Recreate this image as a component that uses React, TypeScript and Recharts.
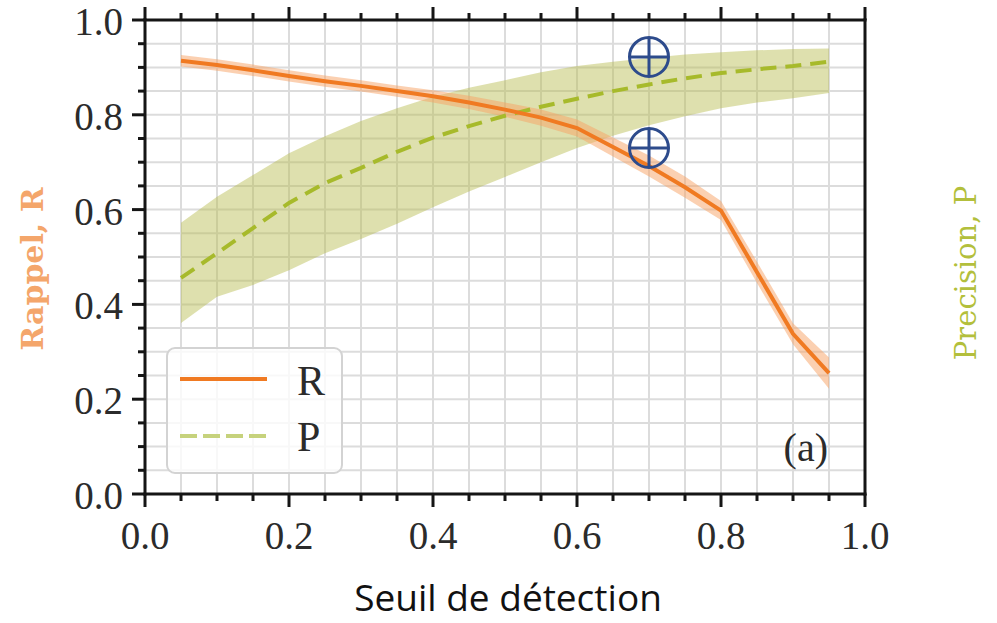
import React from 'react';
import { ComposedChart, XAxis, YAxis, CartesianGrid, Line, Area, Scatter } from 'recharts';

const thresholds = [0.05, 0.1, 0.15, 0.2, 0.25, 0.3, 0.35, 0.4, 0.45, 0.5, 0.55, 0.6, 0.65, 0.7, 0.75, 0.8, 0.85, 0.9, 0.95];
const recall = [0.914, 0.905, 0.894, 0.882, 0.871, 0.861, 0.85, 0.839, 0.826, 0.811, 0.794, 0.772, 0.732, 0.692, 0.647, 0.598, 0.468, 0.338, 0.255];
const recallLo = [0.902, 0.893, 0.882, 0.87, 0.859, 0.849, 0.838, 0.826, 0.812, 0.796, 0.777, 0.754, 0.712, 0.67, 0.625, 0.578, 0.445, 0.316, 0.222];
const recallHi = [0.926, 0.917, 0.906, 0.894, 0.883, 0.873, 0.862, 0.852, 0.84, 0.826, 0.811, 0.79, 0.752, 0.714, 0.67, 0.618, 0.49, 0.36, 0.288];
const precision = [0.456, 0.508, 0.561, 0.614, 0.656, 0.688, 0.722, 0.752, 0.776, 0.798, 0.817, 0.834, 0.85, 0.864, 0.877, 0.888, 0.896, 0.903, 0.912];
const precisionLo = [0.361, 0.416, 0.441, 0.472, 0.508, 0.538, 0.57, 0.605, 0.638, 0.669, 0.7, 0.73, 0.756, 0.778, 0.797, 0.814, 0.826, 0.835, 0.846];
const precisionHi = [0.572, 0.627, 0.673, 0.719, 0.755, 0.787, 0.814, 0.838, 0.857, 0.873, 0.89, 0.903, 0.912, 0.92, 0.927, 0.932, 0.936, 0.939, 0.94];

const gridTicks = [0, 0.05, 0.1, 0.15, 0.2, 0.25, 0.3, 0.35, 0.4, 0.45, 0.5, 0.55, 0.6, 0.65, 0.7, 0.75, 0.8, 0.85, 0.9, 0.95, 1];
const majorTicks = [0, 0.2, 0.4, 0.6, 0.8, 1];

const markerX = [0.7, 0.7];
const markerY = [0.922, 0.73];

const legendLabels = ['R', 'P'];
const xTitle = 'Seuil de détection';
const leftTitle = 'Rappel, R';
const rightTitle = 'Precision, P';
const panelTag = '(a)';

const data = thresholds.map((t, i) => ({
  t,
  R: recall[i],
  rBand: [recallLo[i], recallHi[i]],
  P: precision[i],
  pBand: [precisionLo[i], precisionHi[i]],
}));

const markers = markerX.map((t, i) => ({ t, y: markerY[i] }));

const SERIF = '"Liberation Serif", "DejaVu Serif", serif';
const INK = '#151515';
const LABEL_INK = '#2b2b2b';
const ORANGE = '#f07a22';
const GREEN = '#a7ba2b';

const isMajor = (v: number) => majorTicks.some((m) => Math.abs(m - v) < 1e-6);
const fmt = (v: number) => v.toFixed(1);

const MAJOR_LEN = 13;
const MINOR_LEN = 7;

function LeftTick(props: any) {
  const { x, y, payload } = props;
  const major = isMajor(payload.value);
  const len = major ? MAJOR_LEN : MINOR_LEN;
  return (
    <g>
      <line x1={x - len} x2={x} y1={y} y2={y} stroke={INK} strokeWidth={3} />
      {major && (
        <text x={x - 22} y={y + 15} textAnchor="end" fontSize={39} fontFamily={SERIF} fill={LABEL_INK}>
          {fmt(payload.value)}
        </text>
      )}
    </g>
  );
}

function RightTick(props: any) {
  const { x, y, payload } = props;
  const major = isMajor(payload.value);
  const len = major ? MAJOR_LEN : MINOR_LEN;
  return (
    <g>
      <line x1={x} x2={x + len} y1={y} y2={y} stroke={INK} strokeWidth={3} />
      {major && (
        <text x={x + 27} y={y + 15} textAnchor="start" fontSize={39} fontFamily={SERIF} fill={LABEL_INK}>
          {fmt(payload.value)}
        </text>
      )}
    </g>
  );
}

function BottomTick(props: any) {
  const { x, y, payload } = props;
  const major = isMajor(payload.value);
  const len = major ? MAJOR_LEN : MINOR_LEN;
  return (
    <g>
      <line x1={x} x2={x} y1={y} y2={y + len} stroke={INK} strokeWidth={3} />
      {major && (
        <text x={x} y={y + 55} textAnchor="middle" fontSize={39} fontFamily={SERIF} fill={LABEL_INK}>
          {fmt(payload.value)}
        </text>
      )}
    </g>
  );
}

function TopTick(props: any) {
  const { x, y, payload } = props;
  const major = isMajor(payload.value);
  const len = major ? MAJOR_LEN : MINOR_LEN;
  return <line x1={x} x2={x} y1={y - len} y2={y} stroke={INK} strokeWidth={3} />;
}

function LeftTitle(props: any) {
  const vb = props.viewBox;
  const cx = vb.x + 32;
  const cy = vb.y + vb.height / 2 + 12;
  return (
    <text
      x={cx}
      y={cy}
      transform={`rotate(-90, ${cx}, ${cy})`}
      textAnchor="middle"
      dominantBaseline="central"
      fontSize={30}
      fontWeight="bold"
      fontFamily='"DejaVu Serif", serif'
      fill="#f4a66b"
    >
      {leftTitle}
    </text>
  );
}

function RightTitle(props: any) {
  const vb = props.viewBox;
  const cx = vb.x + 101;
  const cy = vb.y + vb.height / 2 + 16;
  return (
    <text
      x={cx}
      y={cy}
      transform={`rotate(-90, ${cx}, ${cy})`}
      textAnchor="middle"
      dominantBaseline="central"
      fontSize={29}
      fontFamily='"DejaVu Serif", serif'
      fill="#b3bf3c"
    >
      {rightTitle}
    </text>
  );
}

function BottomTitle(props: any) {
  const vb = props.viewBox;
  return (
    <text
      x={vb.x + vb.width / 2 + 3}
      y={vb.y + 117}
      textAnchor="middle"
      fontSize={37}
      fontFamily='"Open Sans", "Noto Sans", sans-serif'
      fill="#111"
    >
      {xTitle}
    </text>
  );
}

function Marker(props: any) {
  const { cx, cy } = props;
  const r = 19.5;
  return (
    <g>
      <circle cx={cx} cy={cy} r={r} fill="none" stroke="#2d4b8c" strokeWidth={3} />
      <line x1={cx - r} x2={cx + r} y1={cy} y2={cy} stroke="#2d4b8c" strokeWidth={3} />
      <line x1={cx} x2={cx} y1={cy - r} y2={cy + r} stroke="#2d4b8c" strokeWidth={3} />
    </g>
  );
}

const spine = { stroke: INK, strokeWidth: 3, strokeLinecap: 'square' as const };

export default function App() {
  return (
    <div style={{ position: 'absolute', left: 0, top: 0, width: 997, height: 623, background: '#fff' }}>
      <ComposedChart width={997} height={623} data={data} margin={{ top: 0, right: 0, bottom: 0, left: 0 }}>
        <CartesianGrid stroke="#dcdcdc" strokeWidth={2} />
        <XAxis
          xAxisId={0}
          dataKey="t"
          type="number"
          domain={[0, 1]}
          ticks={gridTicks}
          interval={0}
          height={129}
          tickSize={0}
          tickMargin={0}
          tickLine={false}
          axisLine={spine}
          tick={(p: any) => <BottomTick {...p} />}
          label={{ content: BottomTitle }}
        />
        <XAxis
          xAxisId="top"
          orientation="top"
          dataKey="t"
          type="number"
          domain={[0, 1]}
          ticks={gridTicks}
          interval={0}
          height={20}
          tickSize={0}
          tickMargin={0}
          tickLine={false}
          axisLine={spine}
          tick={(p: any) => <TopTick {...p} />}
        />
        <YAxis
          yAxisId={0}
          type="number"
          domain={[0, 1]}
          ticks={gridTicks}
          interval={0}
          width={145}
          tickSize={0}
          tickMargin={0}
          tickLine={false}
          axisLine={spine}
          tick={(p: any) => <LeftTick {...p} />}
          label={{ content: LeftTitle }}
        />
        <YAxis
          yAxisId="right"
          orientation="right"
          type="number"
          domain={[0, 1]}
          ticks={gridTicks}
          interval={0}
          width={132}
          tickSize={0}
          tickMargin={0}
          tickLine={false}
          axisLine={spine}
          tick={(p: any) => <RightTick {...p} />}
          label={{ content: RightTitle }}
        />
        <Area
          type="linear"
          dataKey="pBand"
          fill="#b5bb4c"
          fillOpacity={0.45}
          stroke="none"
          isAnimationActive={false}
          activeDot={false}
        />
        <Area
          type="linear"
          dataKey="rBand"
          fill="#f7a263"
          fillOpacity={0.5}
          stroke="none"
          isAnimationActive={false}
          activeDot={false}
        />
        <Line
          type="linear"
          dataKey="P"
          stroke={GREEN}
          strokeWidth={4}
          strokeDasharray="16 9"
          dot={false}
          isAnimationActive={false}
        />
        <Line type="linear" dataKey="R" stroke={ORANGE} strokeWidth={4} dot={false} isAnimationActive={false} />
        <Scatter data={markers} dataKey="y" shape={(p: any) => <Marker {...p} />} isAnimationActive={false} />
      </ComposedChart>
      <svg
        width={997}
        height={623}
        style={{ position: 'absolute', left: 0, top: 0, pointerEvents: 'none' }}
      >
        <rect x={167} y={348} width={175} height={125} rx={8} ry={8} fill="rgba(255,255,255,0.8)" stroke="#d3d3d3" strokeWidth={2} />
        <line x1={180} x2={267} y1={379} y2={379} stroke={ORANGE} strokeWidth={4} />
        <text x={297} y={395} fontSize={42} fontFamily={SERIF} fill={LABEL_INK}>
          {legendLabels[0]}
        </text>
        <line x1={180} x2={267} y1={436} y2={436} stroke="#c6d27c" strokeWidth={4} strokeDasharray="17 6" />
        <text x={297} y={451} fontSize={42} fontFamily={SERIF} fill={LABEL_INK}>
          {legendLabels[1]}
        </text>
        <text x={828} y={461} textAnchor="end" fontSize={40} fontFamily={SERIF} fill={LABEL_INK}>
          {panelTag}
        </text>
      </svg>
    </div>
  );
}
